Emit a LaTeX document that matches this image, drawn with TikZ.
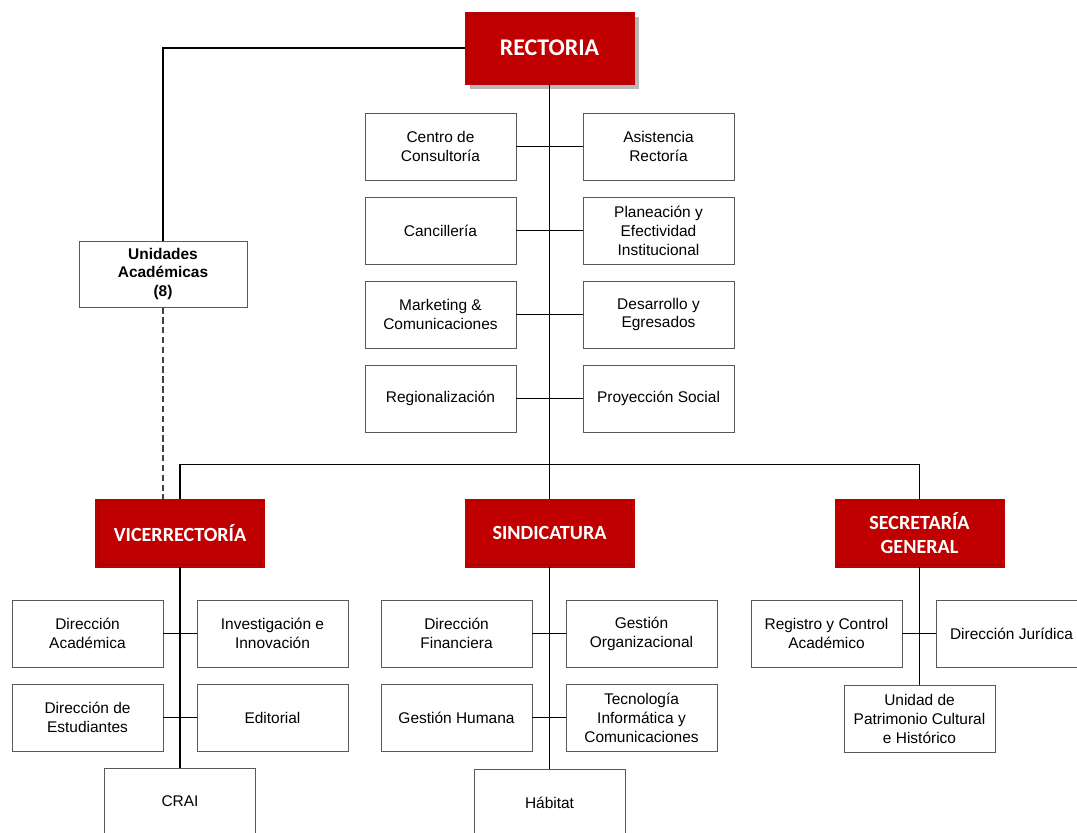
\documentclass[tikz,border=0pt]{standalone}
\usepackage{fontspec}
\setmainfont{Liberation Sans}
\newfontfamily\carlito{Carlito}
\usetikzlibrary{shadows}
\definecolor{rojo}{HTML}{C00000}
\definecolor{rojoosc}{HTML}{A00000}
\tikzset{
  caja/.style={draw=black!65, line width=0.6pt, fill=white, rectangle, minimum width=3.775cm, minimum height=1.675cm, align=center, inner sep=1pt, font=\fontsize{11}{13.5}\selectfont},
  jefe/.style={draw=rojo, fill=rojo, rectangle, minimum width=4.225cm, minimum height=1.7cm, align=center, text=white, font=\carlito\bfseries\fontsize{14.3}{17}\selectfont,
    path picture={\draw[rojoosc, line width=0.6pt] ([shift={(2pt,2pt)}]path picture bounding box.south west) rectangle ([shift={(-2pt,-2pt)}]path picture bounding box.north east);}},
  linea/.style={draw=black, line width=0.75pt},
}
\begin{document}
\begin{tikzpicture}[x=0.025cm, y=-0.025cm]
  \clip (0,0) rectangle (1077,833);
  % rectoria
  \node[jefe, minimum height=1.8cm, font=\carlito\bfseries\fontsize{17}{19}\selectfont, drop shadow={shadow xshift=3.5pt, shadow yshift=-3.5pt, fill=black!28, opacity=1}] (rect) at (549.5,48) {RECTORIA};
  \node[caja, minimum width=4.2cm, minimum height=1.65cm, font=\bfseries\fontsize{11}{13.5}\selectfont] (unid) at (163,274) {Unidades\\Académicas\\(8)};
  % asesoras
  \node[caja] (centro) at (440.5,146.5) {Centro de\\Consultoría};
  \node[caja] (asist)  at (658.5,146.5) {Asistencia\\Rectoría};
  \node[caja] (canc)   at (440.5,230.5) {Cancillería};
  \node[caja] (plan)   at (658.5,230.5) {Planeación y\\Efectividad\\Institucional};
  \node[caja] (mark)   at (440.5,314.5) {Marketing \&\\Comunicaciones};
  \node[caja] (desa)   at (658.5,314.5) {Desarrollo y\\Egresados};
  \node[caja] (regi)   at (440.5,398.5) {Regionalización};
  \node[caja] (proy)   at (658.5,398.5) {Proyección Social};
  % direcciones
  \node[jefe] (vice) at (180,533)   {VICERRECTORÍA};
  \node[jefe] (sind) at (549.5,533) {SINDICATURA};
  \node[jefe] (secr) at (919.5,533) {SECRETARÍA\\GENERAL};
  % vicerrectoria
  \node[caja] (dacad) at (87.5,633.5)  {Dirección\\Académica};
  \node[caja] (inves) at (272.5,633.5) {Investigación e\\Innovación};
  \node[caja] (dest)  at (87.5,717.5)  {Dirección de\\Estudiantes};
  \node[caja] (edit)  at (272.5,717.5) {Editorial};
  \node[caja] (crai)  at (180,801.5)   {CRAI};
  % sindicatura
  \node[caja] (dfin) at (456.5,633.5) {Dirección\\Financiera};
  \node[caja] (gorg) at (641.5,633.5) {Gestión\\Organizacional};
  \node[caja] (ghum) at (456.5,717.5) {Gestión Humana};
  \node[caja] (tecn) at (641.5,717.5) {Tecnología\\Informática y\\Comunicaciones};
  \node[caja] (habi) at (549.5,802.5) {Hábitat};
  % secretaria
  \node[caja] (regc) at (826.5,633.5)  {Registro y Control\\Académico};
  \node[caja] (djur) at (1011.5,633.5) {Dirección Jurídica};
  \node[caja] (patr) at (919.5,718.5)  {Unidad de\\Patrimonio Cultural\\e Histórico};
  % conectores
  \draw[linea] (rect.west) -| (unid.north);
  \draw[linea, draw=black!75, dash pattern=on 4.5pt off 2.5pt] (unid.south) -- (unid.south |- vice.north);
  \draw[linea] (rect.south) -- (sind.north);
  \draw[linea] (vice.north) -- ++(0,-34) -| (secr.north);
  \draw[linea] (centro.east) -- (asist.west);
  \draw[linea] (canc.east) -- (plan.west);
  \draw[linea] (mark.east) -- (desa.west);
  \draw[linea] (regi.east) -- (proy.west);
  \draw[linea] (vice.south) -- (crai.north);
  \draw[linea] (dacad.east) -- (inves.west);
  \draw[linea] (dest.east) -- (edit.west);
  \draw[linea] (sind.south) -- (habi.north);
  \draw[linea] (dfin.east) -- (gorg.west);
  \draw[linea] (ghum.east) -- (tecn.west);
  \draw[linea] (secr.south) -- (patr.north);
  \draw[linea] (regc.east) -- (djur.west);
\end{tikzpicture}
\end{document}
